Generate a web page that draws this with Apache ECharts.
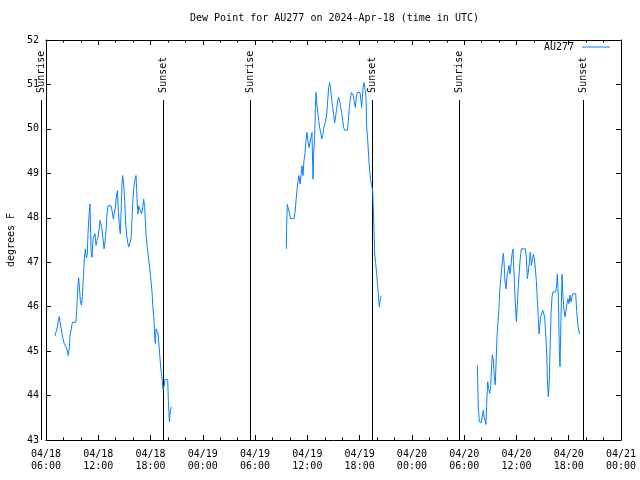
<!DOCTYPE html>
<html><head><meta charset="utf-8">
<script src="https://cdn.jsdelivr.net/npm/echarts@6/dist/echarts.min.js"></script>
<style>html,body{margin:0;padding:0;background:#fff}#c{width:640px;height:480px}</style>
</head><body><div id="c"></div>
<script>
const seriesName = 'AU277';
const titleText = 'Dew Point for AU277 on 2024-Apr-18 (time in UTC)';
const yAxisTitle = 'degrees F';
const xTickLabels = ['04/18\n06:00','04/18\n12:00','04/18\n18:00','04/19\n00:00','04/19\n06:00','04/19\n12:00','04/19\n18:00','04/20\n00:00','04/20\n06:00','04/20\n12:00','04/20\n18:00','04/21\n00:00'];
// hours since 2024-04-18 00:00 UTC
const sunHours = [5.43, 19.46, 29.45, 43.45, 53.44, 67.61];
const sunLabels = ['Sunrise','Sunset','Sunrise','Sunset','Sunrise','Sunset'];

const seg1Hours = [7.03,7.22,7.30,7.42,7.53,7.61,7.72,7.84,7.95,8.07,8.22,8.30,8.45,8.56,8.68,8.75,8.87,8.98,9.06,9.44,9.52,9.64,9.75,9.83,9.94,10.06,10.17,10.29,10.40,10.52,10.63,10.74,10.82,10.94,11.05,11.17,11.28,11.40,11.51,11.62,11.74,11.85,11.97,12.08,12.20,12.31,12.43,12.54,12.66,12.77,12.89,13.00,13.12,13.46,13.58,13.73,13.84,13.96,14.07,14.19,14.30,14.42,14.53,14.65,14.72,14.80,14.92,15.03,15.14,15.26,15.37,15.49,15.64,15.76,15.87,15.99,16.10,16.22,16.33,16.41,16.48,16.56,16.64,16.75,16.87,16.98,17.10,17.21,17.33,17.40,17.48,17.59,17.71,17.82,17.94,18.05,18.17,18.28,18.40,18.47,18.55,18.63,18.70,18.78,18.86,18.97,19.09,19.20,19.33,19.43,19.55,19.66,19.97,20.04,20.16,20.23,20.31,20.39];
const seg1Values = [45.34,45.34,45.54,45.69,45.78,45.65,45.54,45.39,45.28,45.18,45.18,45.09,45.02,44.90,45.09,45.34,45.47,45.60,45.65,45.65,45.92,46.40,46.65,46.44,46.14,46.03,46.22,46.66,47.08,47.30,47.10,47.19,47.64,48.05,48.31,47.26,47.11,47.53,47.49,47.64,47.38,47.49,47.56,47.71,47.94,47.90,47.75,47.53,47.30,47.45,47.71,48.09,48.27,48.27,48.16,47.97,48.12,48.23,48.46,48.61,48.16,47.82,47.64,48.31,48.76,48.95,48.76,48.39,47.90,47.60,47.45,47.34,47.30,47.53,47.97,48.46,48.69,48.87,48.95,48.61,48.31,48.09,48.27,48.20,48.23,48.09,48.23,48.42,48.23,47.94,47.64,47.38,47.19,47.00,46.81,46.59,46.33,45.95,45.69,45.35,45.17,45.50,45.47,45.50,45.39,45.13,44.83,44.57,44.36,44.13,44.21,44.36,44.36,43.89,43.41,43.56,43.69,43.75];

const seg2Hours = [33.59,33.62,33.70,33.82,33.93,34.05,34.47,34.58,34.70,34.81,34.93,35.04,35.16,35.27,35.38,35.50,35.61,35.73,35.84,35.96,36.07,36.19,36.30,36.42,36.53,36.65,36.72,36.84,36.92,36.99,37.07,37.18,37.30,37.41,37.53,37.64,37.76,37.87,37.99,38.10,38.22,38.33,38.45,38.56,38.68,38.79,38.91,39.02,39.14,39.25,39.36,39.48,39.59,39.71,39.82,39.94,40.05,40.17,40.28,40.59,40.70,40.82,40.93,41.05,41.16,41.28,41.39,41.51,41.62,41.74,42.04,42.16,42.23,42.31,42.39,42.50,42.62,42.73,42.81,42.92,43.04,43.15,43.27,43.38,43.50,43.61,43.73,43.84,43.96,44.07,44.19,44.26,44.34,44.42,44.49];
const seg2Values = [47.30,47.80,48.30,48.20,48.12,47.98,47.98,48.12,48.39,48.61,48.84,48.95,48.76,48.95,49.17,48.95,49.29,49.44,49.73,49.92,49.73,49.58,49.69,49.81,49.92,48.87,49.40,49.85,50.48,50.82,50.59,50.41,50.18,50.03,49.92,49.77,49.85,50.00,50.11,50.18,50.33,50.63,50.93,51.04,50.86,50.67,50.48,50.30,50.14,50.30,50.44,50.63,50.71,50.63,50.48,50.37,50.18,50.03,49.97,49.97,50.18,50.48,50.67,50.82,50.78,50.74,50.59,50.48,50.71,50.82,50.82,50.63,50.48,50.71,50.93,51.04,50.89,50.71,50.03,49.77,49.36,49.06,48.84,48.72,48.61,47.94,47.19,46.97,46.74,46.44,46.16,45.99,46.14,46.18,46.25];

const seg3Hours = [55.51,55.54,55.62,55.74,55.97,56.08,56.20,56.27,56.39,56.50,56.58,56.70,56.81,56.93,57.04,57.15,57.23,57.35,57.46,57.58,57.65,57.77,57.88,58.00,58.07,58.19,58.30,58.42,58.49,58.57,58.69,58.80,58.91,59.03,59.14,59.26,59.37,59.49,59.60,59.76,59.87,59.99,60.10,60.22,60.33,60.45,60.56,61.02,61.13,61.25,61.36,61.48,61.59,61.71,61.82,61.94,62.05,62.17,62.28,62.40,62.51,62.59,62.70,62.78,62.89,63.01,63.12,63.24,63.35,63.47,63.54,63.66,63.77,63.85,63.97,64.08,64.19,64.50,64.62,64.69,64.81,64.92,65.00,65.11,65.23,65.34,65.46,65.57,65.69,65.80,65.92,66.03,66.15,66.26,66.38,66.49,66.61,66.80,66.91,67.03,67.14,67.22];
const seg3Values = [44.68,44.38,43.75,43.41,43.39,43.54,43.67,43.52,43.45,43.35,43.82,44.31,44.16,44.05,44.20,44.68,44.92,44.80,44.42,44.24,44.68,45.32,45.66,45.96,46.33,46.61,46.85,47.08,47.20,47.02,46.55,46.40,46.66,46.81,46.93,46.73,46.91,47.18,47.30,47.30,46.07,45.66,46.03,46.48,46.81,47.11,47.30,47.30,47.11,46.63,46.78,47.00,47.23,46.93,47.04,47.18,47.08,46.85,46.59,46.14,45.73,45.39,45.62,45.77,45.84,45.92,45.96,45.77,45.39,44.98,44.42,43.97,44.31,44.98,45.84,46.22,46.33,46.33,46.51,46.73,46.22,44.98,44.65,45.69,46.73,46.22,45.92,45.77,45.92,46.07,46.18,46.07,46.26,46.11,46.22,46.29,46.31,46.29,45.92,45.62,45.47,45.38];

const FONT = 'DejaVu Sans Mono';
const FS = 10;
const LINE_COLOR = '#0a80ff';
const X_MIN = 6, X_MAX = 72, X_STEP = 6;
const Y_MIN = 43, Y_MAX = 52, Y_STEP = 1;
const SUN_LINE_TOP = 50.65, SUN_LABEL_BASE = 50.81;

function pairs(h, v) { return h.map((x, i) => [x, v[i]]); }
const lineData = [].concat(
  pairs(seg1Hours, seg1Values), [[25, '-']],
  pairs(seg2Hours, seg2Values), [[50, '-']],
  pairs(seg3Hours, seg3Values)
);

const chart = echarts.init(document.getElementById('c'), null, {renderer: 'canvas'});
const txt = {fontFamily: FONT, fontSize: FS, color: '#000'};
const axisCommonX = {
  type: 'value', min: X_MIN, max: X_MAX, interval: X_STEP,
  axisLine: {show: true, onZero: false, lineStyle: {color: '#000', width: 1}},
  axisTick: {show: true, inside: true, length: 5, lineStyle: {color: '#000', width: 1}},
  minorTick: {show: true, splitNumber: 3, length: 2.5, lineStyle: {color: '#000', width: 1}},
  splitLine: {show: false}, minorSplitLine: {show: false}
};
const axisCommonY = {
  type: 'value', min: Y_MIN, max: Y_MAX, interval: Y_STEP,
  axisLine: {show: true, onZero: false, lineStyle: {color: '#000', width: 1}},
  axisTick: {show: true, inside: true, length: 5, lineStyle: {color: '#000', width: 1}},
  splitLine: {show: false}
};

chart.setOption({
  animation: false,
  backgroundColor: '#fff',
  title: {text: titleText, left: 190, top: 13, padding: 0,
    textStyle: {fontFamily: FONT, fontSize: FS, fontWeight: 'normal', color: '#000'}},
  legend: {right: 30, top: 42, padding: 0, itemWidth: 28, itemHeight: 1, align: 'right', icon: 'rect',
    data: [{name: seriesName}], textStyle: Object.assign({}, txt, {padding: [0, 3, 0, 0]}), selectedMode: false},
  grid: {left: 46, right: 19, top: 40, bottom: 40, containLabel: false, outerBoundsMode: 'none'},
  xAxis: [
    Object.assign({}, axisCommonX, {position: 'bottom',
      axisLabel: {formatter: v => xTickLabels[Math.round((v - X_MIN) / X_STEP)], fontFamily: FONT, fontSize: FS, color: '#000', lineHeight: 12, margin: 8}}),
    Object.assign({}, axisCommonX, {position: 'top', axisLabel: {show: false}})
  ],
  yAxis: [
    Object.assign({}, axisCommonY, {position: 'left', name: yAxisTitle, nameLocation: 'middle', nameRotate: 90, nameGap: 30,
      nameTextStyle: txt,
      axisLabel: {fontFamily: FONT, fontSize: FS, color: '#000', margin: 7}}),
    Object.assign({}, axisCommonY, {position: 'right', axisLabel: {show: false}})
  ],
  series: [
    {
      type: 'custom', name: 'sun', clip: false, silent: true,
      data: sunHours.map(h => [h, Y_MIN]),
      renderItem: function (params, api) {
        const t = api.value(0);
        const p0 = api.coord([t, Y_MIN]);
        const p1 = api.coord([t, SUN_LINE_TOP]);
        const pl = api.coord([t, SUN_LABEL_BASE]);
        const x = Math.round(p0[0]) + 0.5;
        return {type: 'group', children: [
          {type: 'line', shape: {x1: x, y1: p0[1], x2: x, y2: p1[1]}, style: {stroke: '#000', lineWidth: 1}},
          {type: 'text', x: x, y: pl[1], rotation: Math.PI / 2,
            style: {text: sunLabels[params.dataIndex], fill: '#000', font: FS + 'px "' + FONT + '"', align: 'left', verticalAlign: 'middle'}}
        ]};
      }
    },
    {
      type: 'line', name: seriesName, data: lineData, xAxisIndex: 0, yAxisIndex: 0,
      symbol: 'none', showSymbol: false, connectNulls: false,
      lineStyle: {color: LINE_COLOR, width: 1}, itemStyle: {color: LINE_COLOR}
    }
  ]
});
</script>
</body></html>
